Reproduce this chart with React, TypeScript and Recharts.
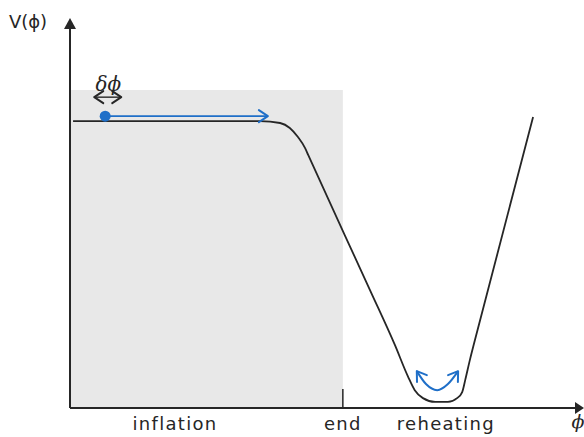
import {
  ComposedChart,
  Line,
  XAxis,
  YAxis,
  ReferenceArea,
  ReferenceLine,
  ReferenceDot,
} from "recharts";

const INK = "#262626";
const BLUE = "#1f6fc8";
const SHADE = "#e8e8e8";
const FONT = "'DejaVu Sans', sans-serif";

// potential V(phi)
const PHI = [0.06, 1.5, 3.0, 3.73, 4.12, 4.31, 4.47, 4.61, 4.67, 5.88, 6.37, 6.63, 6.76, 6.92, 7.16, 7.41, 7.59, 7.69, 7.75, 7.84, 7.94, 9.08];
const POT = [7.55, 7.55, 7.55, 7.55, 7.5, 7.37, 7.13, 6.84, 6.66, 3.11, 1.66, 0.82, 0.47, 0.26, 0.16, 0.16, 0.26, 0.42, 0.74, 1.26, 1.79, 7.66];

// field rolling along the plateau
const ROLL_PHI = [0.69, 3.88];
const ROLL_V = [7.68, 7.68];

// oscillation around the minimum
const OSC_PHI = [6.8, 6.98, 7.2, 7.41, 7.61];
const OSC_V = [0.97, 0.63, 0.47, 0.63, 0.97];

const END_PHI = 5.35;
const SHADE_TOP = 8.37;

const TICKS = [2.06, 5.35, 7.37, 9.96];
const TICK_LABELS = ["inflation", "end", "reheating", "ϕ"];

const potential = PHI.map((phi, i) => ({ phi, v: POT[i] }));
const roll = ROLL_PHI.map((phi, i) => ({ phi, v: ROLL_V[i] }));
const osc = OSC_PHI.map((phi, i) => ({ phi, v: OSC_V[i] }));

function chevron(cx: number, cy: number, dx: number, dy: number, color: string, key?: string) {
  const len = 9;
  const half = 6;
  const px = -dy;
  const py = dx;
  const bx = cx - dx * len;
  const by = cy - dy * len;
  return (
    <polyline
      key={key}
      points={`${bx + px * half},${by + py * half} ${cx},${cy} ${bx - px * half},${by - py * half}`}
      fill="none"
      stroke={color}
      strokeWidth={2}
      strokeLinejoin="round"
      strokeLinecap="round"
    />
  );
}

const AxisTick = (props: any) => {
  const { x, y, index } = props;
  const label = TICK_LABELS[index] ?? "";
  const isPhi = label === "ϕ";
  return (
    <text
      x={x}
      y={y + (isPhi ? 18 : 20)}
      textAnchor="middle"
      fontFamily={isPhi ? "'DejaVu Serif', serif" : FONT}
      fontStyle={isPhi ? "italic" : "normal"}
      fontSize={isPhi ? 19 : 18}
      letterSpacing={isPhi ? 0 : 1.3}
      fill={INK}
    >
      {label}
    </text>
  );
};

export default function App() {
  return (
    <div style={{ position: "absolute", left: 0, top: 0, background: "#fff" }}>
      <ComposedChart width={584} height={437} margin={{ top: 28, right: 4, bottom: 0, left: 0 }}>
        <XAxis
          type="number"
          dataKey="phi"
          domain={[0, 10]}
          ticks={TICKS}
          height={29}
          tickLine={false}
          tickSize={0}
          axisLine={{ stroke: INK, strokeWidth: 2 }}
          tick={<AxisTick />}
          interval={0}
          allowDataOverflow
        />
        <YAxis
          type="number"
          domain={[0, 10]}
          width={70}
          tick={false}
          tickLine={false}
          axisLine={{ stroke: INK, strokeWidth: 2 }}
          allowDataOverflow
        />
        <ReferenceArea x1={0} x2={END_PHI} y1={0} y2={SHADE_TOP} fill={SHADE} fillOpacity={1} stroke="none" ifOverflow="visible" />
        <ReferenceLine
          segment={[{ x: END_PHI, y: 0 }, { x: END_PHI, y: 0.5 }]}
          stroke={INK}
          strokeWidth={1.5}
          ifOverflow="visible"
        />
        <Line
          data={potential}
          dataKey="v"
          type="monotone"
          stroke={INK}
          strokeWidth={1.8}
          dot={false}
          isAnimationActive={false}
        />
        <Line
          data={roll}
          dataKey="v"
          type="linear"
          stroke={BLUE}
          strokeWidth={1.6}
          isAnimationActive={false}
          dot={(p: any) =>
            p.index === 0 ? (
              <circle key="ball" cx={p.cx} cy={p.cy} r={5.5} fill={BLUE} />
            ) : (
              chevron(p.cx, p.cy, 1, 0, BLUE, "tip")
            )
          }
        />
        <Line
          data={osc}
          dataKey="v"
          type="monotone"
          stroke={BLUE}
          strokeWidth={2}
          isAnimationActive={false}
          dot={(p: any) => {
            if (p.index === 0) return chevron(p.cx, p.cy, -0.57, -0.82, BLUE, "l");
            if (p.index === OSC_PHI.length - 1) return chevron(p.cx, p.cy, 0.57, -0.82, BLUE, "r");
            return <g key={`o${p.index}`} />;
          }}
        />
        <ReferenceDot
          x={0.75}
          y={8.18}
          ifOverflow="visible"
          shape={(p: any) => (
            <g>
              <line x1={p.cx - 14} y1={p.cy} x2={p.cx + 13} y2={p.cy} stroke={INK} strokeWidth={1.4} />
              {chevron(p.cx - 14, p.cy, -1, 0, INK, "a")}
              {chevron(p.cx + 13, p.cy, 1, 0, INK, "b")}
              <text
                x={p.cx}
                y={p.cy - 6}
                textAnchor="middle"
                fontFamily="'DejaVu Serif', serif"
                fontStyle="italic"
                fontSize={20}
                fill={INK}
              >
                δϕ
              </text>
            </g>
          )}
        />
        <ReferenceDot
          x={0}
          y={10}
          ifOverflow="visible"
          shape={(p: any) => (
            <g>
              <polygon points={`${p.cx - 6},${p.cy + 1} ${p.cx + 6},${p.cy + 1} ${p.cx},${p.cy - 10}`} fill={INK} />
              <text x={p.cx - 42} y={p.cy} textAnchor="middle" fontFamily={FONT} fontSize={18} fill={INK}>
                V(ϕ)
              </text>
            </g>
          )}
        />
        <ReferenceDot
          x={10}
          y={0}
          ifOverflow="visible"
          shape={(p: any) => (
            <polygon points={`${p.cx - 5},${p.cy - 6} ${p.cx - 5},${p.cy + 6} ${p.cx + 4},${p.cy}`} fill={INK} />
          )}
        />
      </ComposedChart>
    </div>
  );
}
